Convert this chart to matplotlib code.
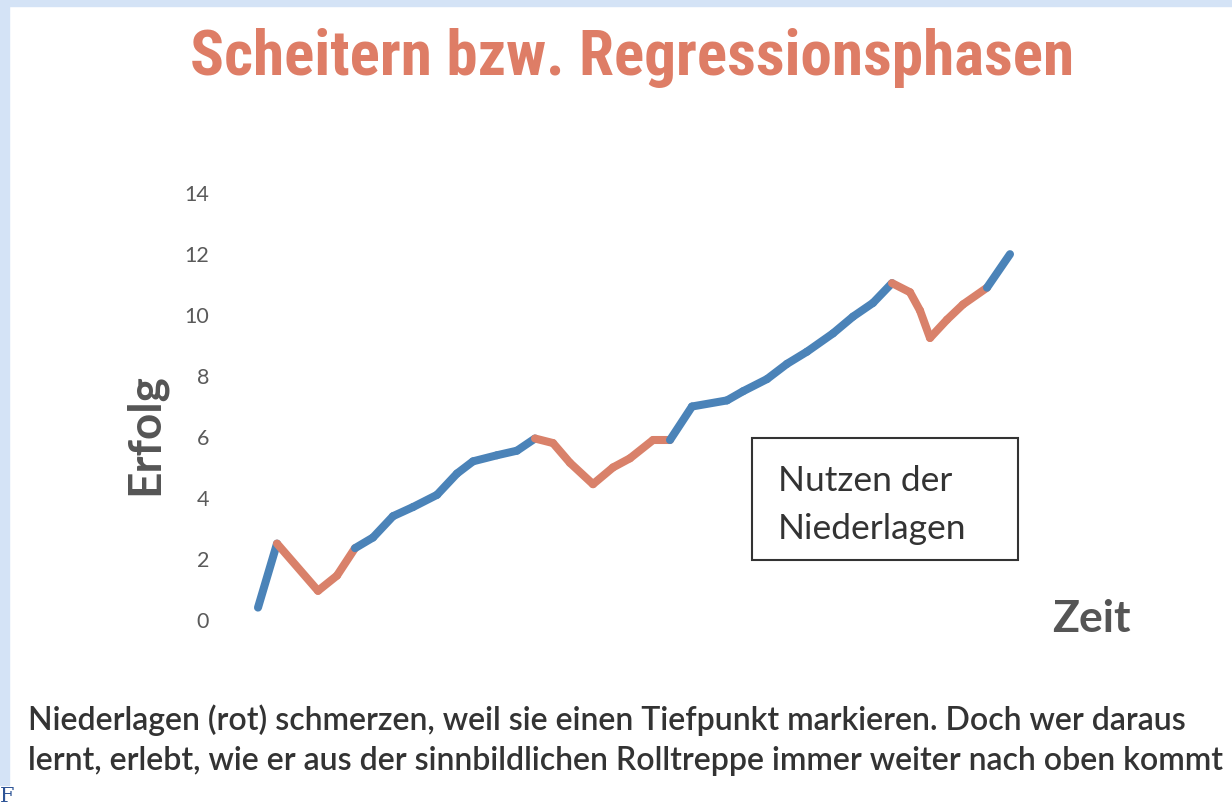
import matplotlib
matplotlib.use("Agg")
import matplotlib.pyplot as plt
from matplotlib.patches import Rectangle

# Zeit (time units) and Erfolg (success)
zeit = [0.0, 1.9, 6.0, 7.9, 9.7, 11.5, 13.5, 15.5, 17.9, 19.9, 21.5, 23.9,
        25.9, 27.7, 29.5, 31.2, 33.5, 35.5, 37.2, 39.5, 41.2, 43.4, 46.9,
        48.5, 50.9, 52.9, 54.9, 57.5, 59.5, 61.5, 63.4, 65.2, 66.2, 67.2,
        68.9, 70.5, 72.9, 75.2]
erfolg = [0.4, 2.5, 0.95, 1.45, 2.35, 2.7, 3.4, 3.7, 4.1, 4.8, 5.2, 5.4,
          5.55, 5.95, 5.8, 5.15, 4.45, 5.0, 5.3, 5.9, 5.9, 7.0, 7.2, 7.5,
          7.9, 8.4, 8.8, 9.4, 9.95, 10.4, 11.05, 10.75, 10.15, 9.25, 9.85,
          10.35, 10.9, 12.0]
# phase of each segment: B = progress, R = Niederlage (defeat)
phasen = "B" + "RRR" + "B" * 9 + "R" * 7 + "B" * 10 + "R" * 6 + "B"
y_ticks = [0, 2, 4, 6, 8, 10, 12, 14]

blau = "#4B83B8"
rot = "#D9816A"

fig = plt.figure(figsize=(12.32, 8.10), dpi=100)
fig.patch.set_facecolor("white")

# light blue frame of the screenshot
fig.patches.append(Rectangle((0, 1 - 6 / 810), 1, 6 / 810, transform=fig.transFigure,
                             color="#D4E3F6", zorder=0))
fig.patches.append(Rectangle((0, 25 / 810), 9 / 1232, 1 - 31 / 810, transform=fig.transFigure,
                             color="#D4E3F6", zorder=0))
fig.text(0.0, 4 / 810, "F", fontsize=15, color="#2F5597", family="DejaVu Serif",
         ha="left", va="bottom")

ax = fig.add_axes([230 / 1232, 1 - 635 / 810, 870 / 1232, 457 / 810])
ax.set_xlim(-2.8, 84.2)
ax.set_ylim(-0.5, 14.5)

for i in range(len(phasen)):
    farbe = blau if phasen[i] == "B" else rot
    ax.plot(zeit[i:i + 2], erfolg[i:i + 2], color=farbe, lw=5.8,
            solid_capstyle="round", solid_joinstyle="round")

for s in ax.spines.values():
    s.set_visible(False)
ax.set_xticks([])
ax.set_yticks(y_ticks)
ax.tick_params(axis="y", length=0, pad=15, labelsize=15.5, labelcolor="#5A5A5A")
for lab in ax.get_yticklabels():
    lab.set_family("Lato")

fig.text(145 / 1232, 1 - 434 / 810, "Erfolg", rotation=90, fontsize=33,
         fontweight="bold", color="#555555", family="Lato", ha="center", va="center")
fig.text(1091 / 1232, 1 - 619 / 810, "Zeit", fontsize=32,
         fontweight="bold", color="#555555", family="Lato", ha="center", va="center")

# box "Nutzen der Niederlagen"
fig.patches.append(Rectangle((752 / 1232, 1 - 560 / 810), 266 / 1232, 122 / 810,
                             transform=fig.transFigure, fill=False,
                             edgecolor="#333333", lw=1.5))
fig.text(778 / 1232, 1 - 505 / 810, "Nutzen der\nNiederlagen", fontsize=25.5,
         color="#333333", family="Lato", ha="left", va="center", linespacing=1.6)

titel = fig.text(632 / 1232, 1 - 58 / 810, "Scheitern bzw. Regressionsphasen",
                 fontsize=50, fontweight="bold", color="#DE7D66", fontstretch="condensed",
                 family=["Roboto Condensed", "Liberation Sans Narrow", "DejaVu Sans"],
                 ha="center", va="center")
# squeeze the title to the width it has in the picture (about 885 px)
r = fig.canvas.get_renderer()
w = titel.get_window_extent(r).width
if w > 885:
    titel.set_fontsize(50 * 885 / w)

fig.text(28 / 1232, 1 - 740 / 810,
         "Niederlagen (rot) schmerzen, weil sie einen Tiefpunkt markieren. Doch wer daraus\n"
         "lernt, erlebt, wie er aus der sinnbildlichen Rolltreppe immer weiter nach oben kommt",
         fontsize=23, fontweight="semibold", color="#333333", family="Lato",
         ha="left", va="center", linespacing=1.4)

fig.savefig("out.png", dpi=100)
